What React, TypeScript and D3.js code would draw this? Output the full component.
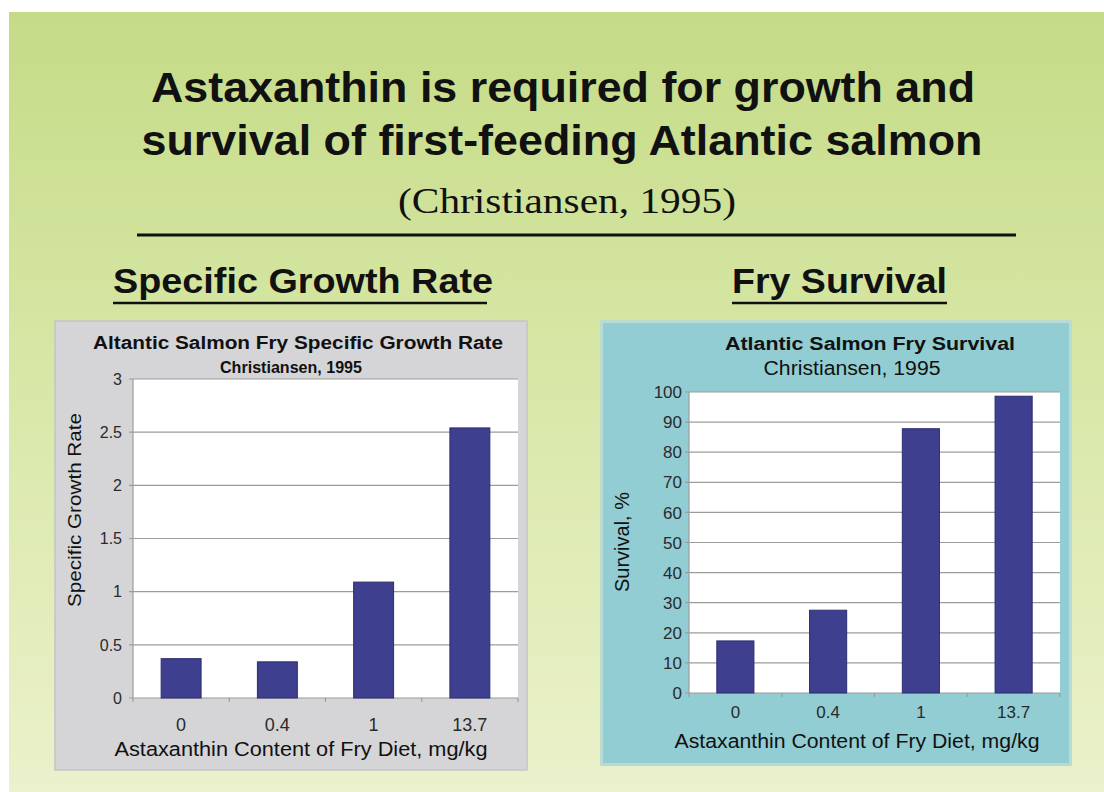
import React from "react";
import * as d3 from "d3";

const categories = ["0", "0.4", "1", "13.7"];
const growthValues = [0.37, 0.34, 1.09, 2.54];
const survivalValues = [17.3, 27.5, 87.8, 98.6];
const growthTicks = [0, 0.5, 1, 1.5, 2, 2.5, 3];
const survivalTicks = [0, 10, 20, 30, 40, 50, 60, 70, 80, 90, 100];

const SANS = "'Liberation Sans', Arial, Helvetica, sans-serif";
const SERIF = "'Liberation Serif', 'Times New Roman', serif";
const BAR = "#3e3f8e";
const GRID = "#9c9c9c";

type ChartProps = {
  panel: { x: number; y: number; w: number; h: number; fill: string; stroke: string; sw: number };
  plot: { x0: number; x1: number; y0: number; y1: number };
  values: number[];
  ticks: number[];
  yMax: number;
  padInner: number;
  title: { text: string; x: number; y: number; size: number; len: number };
  sub: { text: string; x: number; y: number; size: number; len: number; weight: string };
  tickSize: number;
  tickRight: number;
  xLabelY: number;
  xLabelSize: number;
  xTitle: { x: number; y: number; size: number; len: number };
  yTitle: { text: string; x: number; y: number; size: number; len: number };
};

function BarChart(p: ChartProps) {
  const { plot } = p;
  const x = d3
    .scaleBand<string>()
    .domain(categories)
    .range([plot.x0, plot.x1])
    .paddingInner(p.padInner)
    .paddingOuter(p.padInner / 2);
  const y = d3.scaleLinear().domain([0, p.yMax]).range([plot.y1, plot.y0]);
  const step = (plot.x1 - plot.x0) / categories.length;
  return (
    <g>
      <rect x={p.panel.x} y={p.panel.y} width={p.panel.w} height={p.panel.h} fill={p.panel.fill} stroke={p.panel.stroke} strokeWidth={p.panel.sw} />
      <rect x={plot.x0} y={plot.y0} width={plot.x1 - plot.x0} height={plot.y1 - plot.y0} fill="#ffffff" />
      {p.ticks.map((t) => (
        <g key={t}>
          <line x1={plot.x0 - 4} x2={plot.x1} y1={y(t)} y2={y(t)} stroke={GRID} strokeWidth={1.2} />
          <text x={p.tickRight} y={y(t)} dy="0.36em" textAnchor="end" fontFamily={SANS} fontSize={p.tickSize} fill="#2a2a2a">
            {t}
          </text>
        </g>
      ))}
      <line x1={plot.x0} x2={plot.x0} y1={plot.y0} y2={plot.y1} stroke={GRID} strokeWidth={1.2} />
      {d3.range(categories.length + 1).map((i) => (
        <line key={i} x1={plot.x0 + i * step} x2={plot.x0 + i * step} y1={plot.y1} y2={plot.y1 + 4} stroke={GRID} strokeWidth={1.2} />
      ))}
      {categories.map((c, i) => (
        <rect key={c} x={x(c)} y={y(p.values[i])} width={x.bandwidth()} height={plot.y1 - y(p.values[i])} fill={BAR} stroke="#2c2d70" strokeWidth={1} />
      ))}
      {categories.map((c) => (
        <text key={c} x={(x(c) as number) + x.bandwidth() / 2} y={p.xLabelY} textAnchor="middle" fontFamily={SANS} fontSize={p.xLabelSize} fill="#2a2a2a">
          {c}
        </text>
      ))}
      <text x={p.title.x} y={p.title.y} textAnchor="middle" fontFamily={SANS} fontWeight="bold" fontSize={p.title.size} textLength={p.title.len} lengthAdjust="spacingAndGlyphs" fill="#111">
        {p.title.text}
      </text>
      <text x={p.sub.x} y={p.sub.y} textAnchor="middle" fontFamily={SANS} fontWeight={p.sub.weight} fontSize={p.sub.size} textLength={p.sub.len} lengthAdjust="spacingAndGlyphs" fill="#111">
        {p.sub.text}
      </text>
      <text x={p.xTitle.x} y={p.xTitle.y} textAnchor="middle" fontFamily={SANS} fontSize={p.xTitle.size} textLength={p.xTitle.len} lengthAdjust="spacingAndGlyphs" fill="#111">
        Astaxanthin Content of Fry Diet, mg/kg
      </text>
      <text transform={`translate(${p.yTitle.x},${p.yTitle.y}) rotate(-90)`} textAnchor="middle" fontFamily={SANS} fontSize={p.yTitle.size} textLength={p.yTitle.len} lengthAdjust="spacingAndGlyphs" fill="#111">
        {p.yTitle.text}
      </text>
    </g>
  );
}

export default function App() {
  return (
    <svg width={1104} height={792} style={{ position: "absolute", left: 0, top: 0 }}>
      <defs>
        <linearGradient id="bg" x1="0" y1="0" x2="0" y2="1">
          <stop offset="0" stopColor="#c5db87" />
          <stop offset="0.5" stopColor="#d9e8a9" />
          <stop offset="1" stopColor="#ebf1cb" />
        </linearGradient>
      </defs>
      <rect x={0} y={0} width={1104} height={792} fill="#ffffff" />
      <rect x={9} y={12} width={1095} height={780} fill="url(#bg)" />

      <text x={563} y={102} textAnchor="middle" fontFamily={SANS} fontWeight="bold" fontSize={43} textLength={824} lengthAdjust="spacingAndGlyphs" fill="#111">
        Astaxanthin is required for growth and
      </text>
      <text x={562} y={155} textAnchor="middle" fontFamily={SANS} fontWeight="bold" fontSize={43} textLength={841} lengthAdjust="spacingAndGlyphs" fill="#111">
        survival of first-feeding Atlantic salmon
      </text>
      <text x={567} y={213} textAnchor="middle" fontFamily={SERIF} fontSize={36} textLength={338} lengthAdjust="spacingAndGlyphs" fill="#111">
        (Christiansen, 1995)
      </text>
      <line x1={137} x2={1016} y1={235} y2={235} stroke="#111" strokeWidth={3} />

      <text x={113} y={293} fontFamily={SANS} fontWeight="bold" fontSize={35} textLength={380} lengthAdjust="spacingAndGlyphs" fill="#111">
        Specific Growth Rate
      </text>
      <line x1={113} x2={487} y1={303} y2={303} stroke="#111" strokeWidth={2.5} />
      <text x={732} y={293} fontFamily={SANS} fontWeight="bold" fontSize={35} textLength={215} lengthAdjust="spacingAndGlyphs" fill="#111">
        Fry Survival
      </text>
      <line x1={732} x2={947} y1={303} y2={303} stroke="#111" strokeWidth={2.5} />

      <BarChart
        panel={{ x: 55, y: 321, w: 472, h: 449, fill: "#d5d5d7", stroke: "#c4c4c8", sw: 1.5 }}
        plot={{ x0: 133, x1: 518, y0: 379, y1: 698 }}
        values={growthValues}
        ticks={growthTicks}
        yMax={3}
        padInner={0.585}
        title={{ text: "Altantic Salmon Fry Specific Growth Rate", x: 298, y: 349, size: 18, len: 410 }}
        sub={{ text: "Christiansen, 1995", x: 291, y: 373, size: 16, len: 142, weight: "bold" }}
        tickSize={16}
        tickRight={122}
        xLabelY={731}
        xLabelSize={18}
        xTitle={{ x: 301, y: 756, size: 20, len: 373 }}
        yTitle={{ text: "Specific Growth Rate", x: 81, y: 510, size: 19, len: 194 }}
      />

      <BarChart
        panel={{ x: 601.5, y: 321.5, w: 469, h: 443, fill: "#92cdd3", stroke: "#b9dcd2", sw: 3 }}
        plot={{ x0: 689, x1: 1060, y0: 392, y1: 693 }}
        values={survivalValues}
        ticks={survivalTicks}
        yMax={100}
        padInner={0.6}
        title={{ text: "Atlantic Salmon Fry Survival", x: 870, y: 350, size: 18, len: 290 }}
        sub={{ text: "Christiansen, 1995", x: 852, y: 375, size: 20, len: 177, weight: "normal" }}
        tickSize={17}
        tickRight={682}
        xLabelY={718}
        xLabelSize={17}
        xTitle={{ x: 857, y: 748, size: 20, len: 365 }}
        yTitle={{ text: "Survival, %", x: 629, y: 542, size: 20, len: 100 }}
      />
    </svg>
  );
}
